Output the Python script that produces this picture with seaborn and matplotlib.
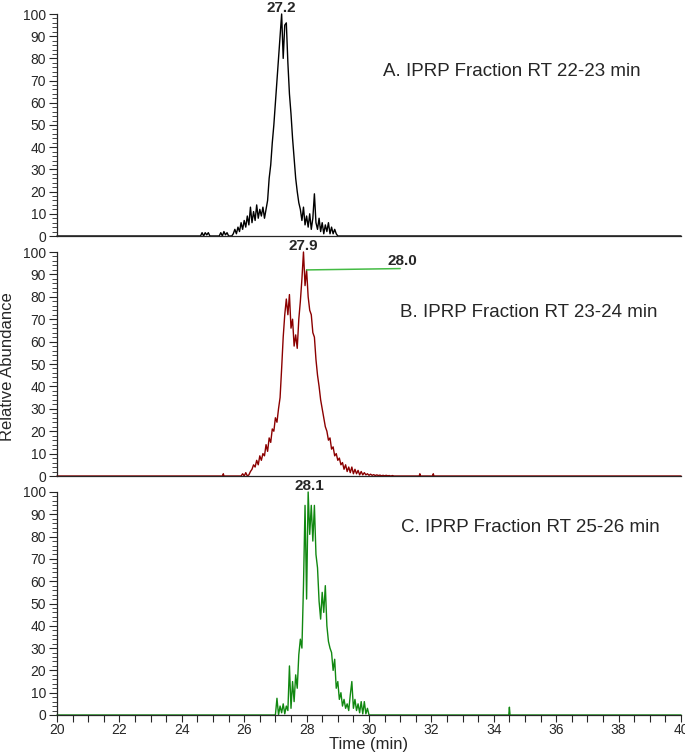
import numpy as np
import pandas as pd
import matplotlib
matplotlib.use('Agg')
import matplotlib.pyplot as plt
import seaborn as sns
from matplotlib.ticker import MultipleLocator

# scan grid step (min) for the hand-read traces
STEP = 0.05

# panel A: IPRP fraction RT 22-23 min
a_start = 24.60
a_vals = [0, 1.5, 0, 1.5, 0.5, 1.5, 0, 0, 0, 0, 0, 0, 0, 1.5, 0, 2, 0.5, 1.5, 0, 0,
          0, 1, 3, 1, 4, 2, 6, 3, 7, 4, 9, 5, 13, 6, 11, 7, 14, 8, 12, 9,
          13, 8, 12, 16, 26, 32, 42, 50, 60, 70, 80, 90, 100, 80, 95, 96, 78, 64, 55, 44,
          35, 26, 20, 15, 12, 7, 13, 5, 9, 4, 10, 3, 8, 19, 6, 3, 8, 2, 6, 1,
          5, 2, 6, 1, 4, 1, 3, 1, 0]

# panel B: IPRP fraction RT 23-24 min
b_start = 25.90
b_vals = [0, 1, 0, 1.5, 0, 0.5, 2, 3, 5, 4, 7, 5, 9, 7, 10, 9, 14, 11, 17, 15,
          21, 20, 26, 24, 30, 35, 48, 62, 72, 79, 72, 81, 66, 70, 58, 63, 57, 70, 78, 88,
          100, 85, 92, 80, 74, 72, 64, 62, 52, 45, 40, 34, 30, 26, 22, 20, 16, 17, 12, 13,
          9, 10, 7, 8, 5, 6, 3, 5, 2, 4, 1.5, 4, 1, 3, 1, 2.5, 0.5, 2, 0.5, 1.5,
          0.5, 1, 0.3, 0.8, 0.3, 0.6, 0.2, 0.5, 0.2, 0.4, 0.1, 0.3, 0.1, 0.3, 0.1, 0.2,
          0, 0.2, 0]
b_blip_t = [25.33, 31.63, 32.06]
b_blip_h = [1.0, 1.0, 1.0]

# panel C: IPRP fraction RT 25-26 min
c_start = 27.00
c_vals = [0, 7.5, 0, 4, 1, 5, 0.5, 4, 2, 22, 3, 15, 6, 18, 12, 27, 34, 30, 58, 94,
          52, 100, 81, 94, 78, 94, 72, 66, 51, 43, 55, 46, 58, 40, 33, 30, 28, 20, 25, 12,
          15, 7, 10, 4, 7, 3, 5, 2, 9, 15, 3, 7, 2, 5, 1, 6, 0.5, 6, 0.5, 3, 0]
c_blip_t = [34.5]
c_blip_h = [3.5]

panel_titles = ['A. IPRP Fraction RT 22-23 min',
                'B. IPRP Fraction RT 23-24 min',
                'C. IPRP Fraction RT 25-26 min']
peak_labels = ['27.2', '27.9', '28.1']
peak_times = [27.2, 27.9, 28.1]
colors = ['black', '#8b0000', '#118811']


def make_trace(start, vals, blip_t=(), blip_h=()):
    t = list(np.round(start + STEP * np.arange(len(vals)), 3))
    y = list(vals)
    for bt, bh in zip(blip_t, blip_h):
        t += [bt - 0.02, bt, bt + 0.02]
        y += [0, bh, 0]
    t += [20.0, 40.0]
    y += [0, 0]
    df = pd.DataFrame({'time': t, 'abundance': y}).sort_values('time')
    return df


traces = [make_trace(a_start, a_vals),
          make_trace(b_start, b_vals, b_blip_t, b_blip_h),
          make_trace(c_start, c_vals, c_blip_t, c_blip_h)]

sns.set_style('ticks')
plt.rcParams['font.family'] = ['Liberation Sans', 'DejaVu Sans']

fig = plt.figure(figsize=(6.85, 7.55), dpi=100)
left, width = 57 / 685, 624 / 685
tops = [14, 252, 492]
bottoms = [236, 476, 715]
axes = []
for top, bot in zip(tops, bottoms):
    axes.append(fig.add_axes([left, 1 - bot / 755, width, (bot - top) / 755]))

title_pos = [(30.45, 74), (31.0, 73), (31.03, 84)]

for i, ax in enumerate(axes):
    sns.lineplot(data=traces[i], x='time', y='abundance', ax=ax, color=colors[i],
                 linewidth=1.0, estimator=None, sort=False, clip_on=False)
    ax.set_xlim(20, 40)
    ax.set_ylim(0, 100)
    ax.set_xlabel('')
    ax.set_ylabel('')
    sns.despine(ax=ax)
    ax.yaxis.set_major_locator(MultipleLocator(10))
    ax.yaxis.set_minor_locator(MultipleLocator(2))
    ax.tick_params(axis='y', which='major', length=6, width=0.8, labelsize=10, pad=2)
    ax.tick_params(axis='y', which='minor', length=3.5, width=0.6)
    ax.xaxis.set_major_locator(MultipleLocator(2))
    ax.xaxis.set_minor_locator(MultipleLocator(0.5))
    if i < 2:
        ax.tick_params(axis='x', which='both', bottom=False, labelbottom=False)
    else:
        ax.tick_params(axis='x', which='major', length=5, width=0.8, labelsize=10, pad=1)
        ax.tick_params(axis='x', which='minor', length=5, width=0.8)
    ax.spines['left'].set_linewidth(0.9)
    ax.spines['bottom'].set_linewidth(0.9)
    ax.patch.set_alpha(0)
    ax.text(title_pos[i][0], title_pos[i][1], panel_titles[i], fontsize=13.5,
            va='center', ha='left')
    ax.annotate(peak_labels[i], (peak_times[i], 100), xytext=(0, -0.5),
                textcoords='offset points', ha='center', va='bottom',
                fontsize=11, fontweight='bold', annotation_clip=False)

# annotation of the second apex in panel B
axes[1].plot([28.0, 31.0], [92, 92.6], color='#44bb44', linewidth=1.1)
axes[1].text(31.06, 93, '28.0', fontsize=11, fontweight='bold', ha='center', va='bottom')

axes[2].set_xlabel('Time (min)', fontsize=12, labelpad=0)
fig.text(8 / 685, 0.515, 'Relative Abundance', rotation=90, va='center', ha='center', fontsize=12)

fig.savefig('out.png', dpi=100)
